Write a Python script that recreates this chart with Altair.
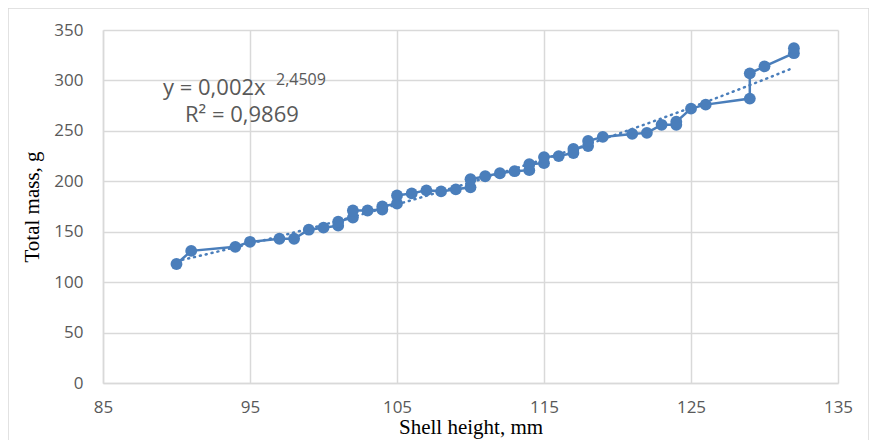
import altair as alt
import pandas as pd

# Shell height (mm) and total mass (g), in the order they are connected
shell_height = [90, 91, 94, 95, 97, 98, 99, 100, 101, 101, 102, 102, 103, 104, 104,
                105, 105, 106, 107, 108, 109, 110, 110, 111, 112, 113, 114, 114,
                115, 115, 116, 117, 117, 118, 118, 119, 121, 122, 123, 124, 124,
                125, 126, 129, 129, 130, 132, 132]
total_mass = [118, 131, 135, 140, 143, 143, 152, 154, 156, 160, 164, 171, 171, 172, 175,
              178, 186, 188, 191, 190, 192, 194, 202, 205, 208, 210, 211, 217,
              218, 224, 225, 228, 232, 235, 240, 244, 247, 248, 256, 256, 259,
              272, 276, 282, 307, 314, 327, 332]

x_ticks = [85, 95, 105, 115, 125, 135]
y_ticks = [0, 50, 100, 150, 200, 250, 300, 350]

equation_main = "y = 0,002x"
equation_exp = "2,4509"
r2_text = "R² = 0,9869"

BLUE = "#4a7ebb"
GRID = "#d9d9d9"
LABEL = "#595959"

df = pd.DataFrame({"h": shell_height, "m": total_mass, "i": list(range(len(shell_height)))})

xs = alt.Scale(domain=[85, 135], nice=False, zero=False)
ys = alt.Scale(domain=[0, 350], nice=False)

xax = alt.Axis(values=x_ticks, title="Shell height, mm", grid=True, ticks=False,
               labelPadding=16, titlePadding=1, labelFlush=False)
yax = alt.Axis(values=y_ticks, title="Total mass, g", grid=True, ticks=False,
               labelPadding=20, titlePadding=11, labelFlush=False)

base = alt.Chart(df)

line = base.mark_line(color=BLUE, strokeWidth=2.5).encode(
    x=alt.X("h:Q", scale=xs, axis=xax),
    y=alt.Y("m:Q", scale=ys, axis=yax),
    order="i:Q",
)

pts = base.mark_circle(color=BLUE, size=140, opacity=1).encode(
    x=alt.X("h:Q", scale=xs),
    y=alt.Y("m:Q", scale=ys),
)

trend = base.transform_regression("h", "m", method="pow").mark_line(
    color=BLUE, strokeWidth=2.5, strokeDash=[1, 5], strokeCap="round"
).encode(
    x=alt.X("h:Q", scale=xs),
    y=alt.Y("m:Q", scale=ys),
)

ann = pd.DataFrame({"t": [equation_main]})
eq1 = alt.Chart(ann).mark_text(align="left", baseline="middle", fontSize=22,
                               font="Open Sans", color=LABEL).encode(
    x=alt.value(60), y=alt.value(58), text="t:N")
ann2 = pd.DataFrame({"t": [equation_exp]})
eq2 = alt.Chart(ann2).mark_text(align="left", baseline="middle", fontSize=16,
                                font="Open Sans", color=LABEL).encode(
    x=alt.value(173), y=alt.value(50), text="t:N")
ann3 = pd.DataFrame({"t": [r2_text]})
eq3 = alt.Chart(ann3).mark_text(align="left", baseline="middle", fontSize=22,
                                font="Open Sans", color=LABEL).encode(
    x=alt.value(82), y=alt.value(85), text="t:N")

frame = alt.Chart(pd.DataFrame({"a": [0]})).mark_rect(
    filled=False, stroke=GRID, strokeWidth=1.5).encode(
    x=alt.value(-95), x2=alt.value(766), y=alt.value(-22), y2=alt.value(412))

chart = alt.layer(frame, trend, line, pts, eq1, eq2, eq3).properties(
    width=735, height=353,
    autosize=alt.AutoSizeParams(type="none"),
    padding={"left": 95, "top": 22, "right": 31, "bottom": 57},
).configure_view(stroke=None).configure_axis(
    gridColor=GRID, gridWidth=1.5, domainColor=GRID, domainWidth=1.5,
    labelFont="Open Sans", labelFontSize=17, labelColor=LABEL,
    titleFont="Liberation Serif", titleFontSize=21, titleColor="#000000",
    titleFontWeight="normal",
)

chart.save("out.html", embed_options={"renderer": "svg", "actions": False})
